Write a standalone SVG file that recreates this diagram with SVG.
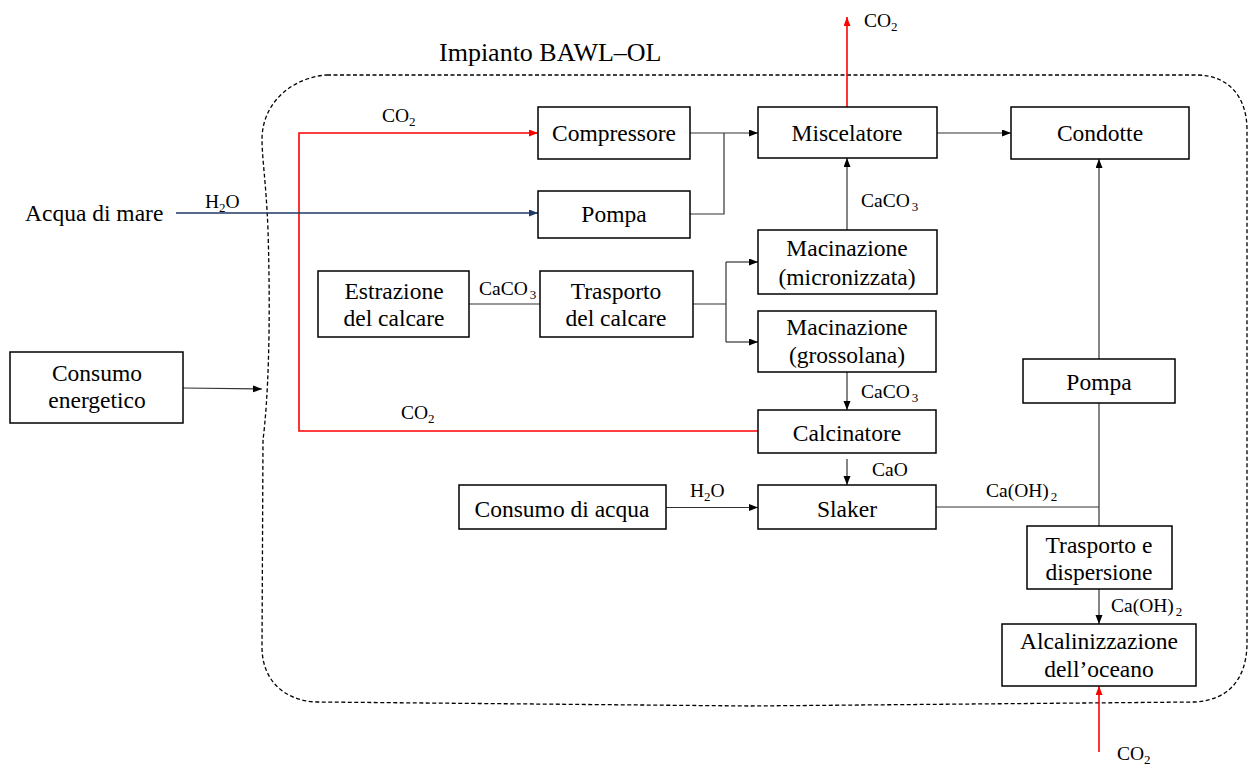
<svg xmlns="http://www.w3.org/2000/svg" width="1248" height="767" viewBox="0 0 1248 767">
<style>
.box{fill:#fff;stroke:#000;stroke-width:1.5}
.t{font-family:"Liberation Serif","Times New Roman",serif;font-size:23.5px;fill:#000;text-anchor:middle}
.l{font-family:"Liberation Serif","Times New Roman",serif;font-size:19.5px;fill:#000}
.s{font-size:13px}
.c{fill:none;stroke:#333;stroke-width:1.2}
.r{fill:none;stroke:#f00;stroke-width:1.6}
.b{fill:none;stroke:#1f3864;stroke-width:1.6}
.bd{fill:none;stroke:#000;stroke-width:1.3;stroke-dasharray:4 2.5}
</style>
<defs>
<marker id="ak" markerUnits="userSpaceOnUse" markerWidth="10" markerHeight="8" refX="9" refY="3.5" orient="auto"><path d="M0,0 L9,3.5 L0,7 z" fill="#000"/></marker>
<marker id="ar" markerUnits="userSpaceOnUse" markerWidth="10" markerHeight="8" refX="9" refY="3.5" orient="auto"><path d="M0,0 L9,3.5 L0,7 z" fill="#f00"/></marker>
<marker id="ab" markerUnits="userSpaceOnUse" markerWidth="10" markerHeight="8" refX="9" refY="3.5" orient="auto"><path d="M0,0 L9,3.5 L0,7 z" fill="#1f3864"/></marker>
</defs>

<path class="bd" d="M327,75 L1198,75 C1230,76 1247,98 1247,130 L1247,645 C1246,680 1228,700 1195,702 L750,706 L317,702 C284,701 262,680 262,647 L263,440 C268,400 271,330 268,230 C266,180 262,160 262,138 C263,100 295,77 327,75 Z"/>
<text class="t" x="439" y="61" style="text-anchor:start;font-size:26px">Impianto BAWL–OL</text>

<g id="connectors">
<path class="r" d="M758,431 H299 V133 H538" marker-end="url(#ar)"/>
<path class="r" d="M847,107 V17" marker-end="url(#ar)"/>
<path class="r" d="M1099,752 V686" marker-end="url(#ar)"/>
<path class="b" d="M176,213 H538" marker-end="url(#ab)"/>
<path class="c" d="M690,133 H758" marker-end="url(#ak)"/>
<path class="c" d="M690,214 H724 V133"/>
<path class="c" d="M937,133 H1011" marker-end="url(#ak)"/>
<path class="c" d="M847,230 V158" marker-end="url(#ak)"/>
<path class="c" d="M469,304 H540"/>
<path class="c" d="M693,304 H726"/>
<path class="c" d="M726,262 V342"/>
<path class="c" d="M726,262 H758" marker-end="url(#ak)"/>
<path class="c" d="M726,342 H758" marker-end="url(#ak)"/>
<path class="c" d="M847,372 V410" marker-end="url(#ak)"/>
<path class="c" d="M847,459 V485" marker-end="url(#ak)"/>
<path class="c" d="M666,507.5 H758" marker-end="url(#ak)"/>
<path class="c" d="M936,507 H1099"/>
<path class="c" d="M1099,359 V159" marker-end="url(#ak)"/>
<path class="c" d="M1099,403 V526"/>
<path class="c" d="M1099,589 V624" marker-end="url(#ak)"/>
<path class="c" d="M183,388 L262,389" marker-end="url(#ak)"/>
</g>

<g id="labels">
<text class="l" x="382" y="122">CO<tspan class="s" dy="4">2</tspan></text>
<text class="l" x="864" y="27">CO<tspan class="s" dy="4">2</tspan></text>
<text class="l" x="861" y="207">CaCO<tspan class="s" dx="2" dy="4">3</tspan></text>
<text class="l" x="205" y="208">H<tspan class="s" dy="4">2</tspan><tspan dy="-4">O</tspan></text>
<text class="l" x="479" y="295">CaCO<tspan class="s" dx="2" dy="4">3</tspan></text>
<text class="l" x="401" y="419">CO<tspan class="s" dy="4">2</tspan></text>
<text class="l" x="861" y="398">CaCO<tspan class="s" dx="2" dy="4">3</tspan></text>
<text class="l" x="872" y="476">CaO</text>
<text class="l" x="690" y="497">H<tspan class="s" dy="4">2</tspan><tspan dy="-4">O</tspan></text>
<text class="l" x="986" y="497">Ca(OH)<tspan class="s" dx="2" dy="4">2</tspan></text>
<text class="l" x="1111" y="612">Ca(OH)<tspan class="s" dx="2" dy="4">2</tspan></text>
<text class="l" x="1117" y="760">CO<tspan class="s" dy="4">2</tspan></text>
</g>

<g id="acqua-di-mare"><text class="t" x="25" y="221" style="text-anchor:start">Acqua di mare</text></g>

<g id="consumo-energetico"><rect class="box" x="10" y="352" width="173" height="71"/><text class="t" x="97" y="381">Consumo</text><text class="t" x="97" y="408">energetico</text></g>
<g id="compressore"><rect class="box" x="538" y="107" width="152" height="52"/><text class="t" x="614" y="141">Compressore</text></g>
<g id="pompa1"><rect class="box" x="538" y="191" width="152" height="47"/><text class="t" x="614" y="222">Pompa</text></g>
<g id="miscelatore"><rect class="box" x="758" y="107" width="179" height="51"/><text class="t" x="847" y="141">Miscelatore</text></g>
<g id="condotte"><rect class="box" x="1011" y="107" width="178" height="52"/><text class="t" x="1100" y="141">Condotte</text></g>
<g id="mac-micro"><rect class="box" x="758" y="230" width="179" height="64"/><text class="t" x="847" y="256">Macinazione</text><text class="t" x="847" y="285">(micronizzata)</text></g>
<g id="mac-gross"><rect class="box" x="758" y="311" width="178" height="61"/><text class="t" x="847" y="335">Macinazione</text><text class="t" x="847" y="363">(grossolana)</text></g>
<g id="estrazione"><rect class="box" x="318" y="271" width="151" height="66"/><text class="t" x="394" y="299">Estrazione</text><text class="t" x="394" y="326">del calcare</text></g>
<g id="trasporto-calcare"><rect class="box" x="540" y="271" width="153" height="66"/><text class="t" x="616" y="299">Trasporto</text><text class="t" x="616" y="326">del calcare</text></g>
<g id="calcinatore"><rect class="box" x="758" y="410" width="178" height="43"/><text class="t" x="847" y="441">Calcinatore</text></g>
<g id="slaker"><rect class="box" x="758" y="485" width="178" height="44"/><text class="t" x="847" y="517">Slaker</text></g>
<g id="consumo-acqua"><rect class="box" x="459" y="485" width="207" height="44"/><text class="t" x="562" y="517">Consumo di acqua</text></g>
<g id="pompa2"><rect class="box" x="1023" y="359" width="152" height="44"/><text class="t" x="1099" y="390">Pompa</text></g>
<g id="trasporto-dispersione"><rect class="box" x="1027" y="526" width="145" height="63"/><text class="t" x="1099" y="553">Trasporto e</text><text class="t" x="1099" y="580">dispersione</text></g>
<g id="alcalinizzazione"><rect class="box" x="1002" y="624" width="194" height="62"/><text class="t" x="1099" y="649">Alcalinizzazione</text><text class="t" x="1099" y="677">dell’oceano</text></g>
</svg>
